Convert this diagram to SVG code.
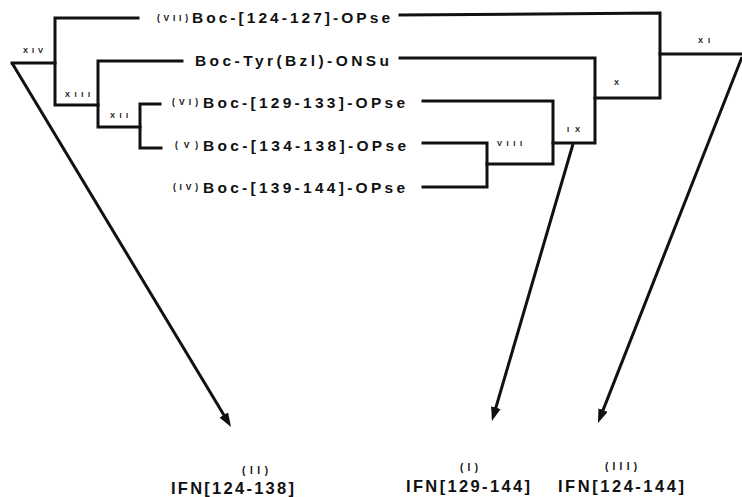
<svg xmlns="http://www.w3.org/2000/svg" width="742" height="497" viewBox="0 0 742 497">
<style>
.ln{fill:none;stroke:#111;stroke-width:3;stroke-linecap:square;stroke-linejoin:miter}
.ar{fill:none;stroke:#111;stroke-width:3;marker-end:url(#ah)}
.frag{font-family:"Liberation Sans",Arial,sans-serif;font-size:15.5px;font-weight:bold;fill:#111}
.pre{font-family:"Liberation Sans",Arial,sans-serif;font-size:8.5px;font-weight:bold;fill:#111}
.step{font-family:"Liberation Sans",Arial,sans-serif;font-size:7.5px;font-weight:bold;fill:#111}
.prod{font-family:"Liberation Sans",Arial,sans-serif;font-size:16.5px;font-weight:bold;fill:#111}
.pnum{font-family:"Liberation Sans",Arial,sans-serif;font-size:10px;font-weight:bold;fill:#111}
</style>
<defs>
<marker id="ah" markerUnits="userSpaceOnUse" markerWidth="14" markerHeight="10" refX="6" refY="5" orient="auto">
<path d="M0,0 L14,5 L0,10 Z" fill="#111"/>
</marker>
</defs>
<rect width="742" height="497" fill="#fff"/>

<g id="connectors">
<!-- left tree -->
<path class="ln" d="M138,18 H55 V105 H98"/>
<path class="ln" d="M12,63 H55"/>
<path class="ln" d="M182,61 H98 V127 H140"/>
<path class="ln" d="M160,104 H140 V148 H161"/>
<!-- right tree -->
<path class="ln" d="M400,15 L660,13 V98 H595"/>
<path class="ln" d="M660,54 H742"/>
<path class="ln" d="M400,58 H595 V143 H553"/>
<path class="ln" d="M423,101 H553 V164 H487"/>
<path class="ln" d="M423,143 H487 V187 H423"/>
<!-- arrows -->
<line class="ar" x1="12" y1="63" x2="226.9" y2="420.1"/>
<line class="ar" x1="573" y1="144" x2="494.2" y2="413.3"/>
<line class="ar" x1="742" y1="57" x2="600.9" y2="415.6"/>
<!-- step labels -->
<text class="step" x="23" y="53" textLength="20" lengthAdjust="spacing">XIV</text>
<text class="step" x="65" y="97" textLength="25" lengthAdjust="spacing">XIII</text>
<text class="step" x="110" y="118" textLength="18" lengthAdjust="spacing">XII</text>
<text class="step" x="497" y="146" textLength="25" lengthAdjust="spacing">VIII</text>
<text class="step" x="567" y="132" textLength="13" lengthAdjust="spacing">IX</text>
<text class="step" x="614" y="85">X</text>
<text class="step" x="698" y="43" textLength="12" lengthAdjust="spacing">XI</text>
</g>

<g id="vii">
<text class="pre" x="157" y="21" textLength="31" lengthAdjust="spacing">(VII)</text>
<text class="frag" x="192" y="23" textLength="198" lengthAdjust="spacing">Boc-[124-127]-OPse</text>
</g>
<g id="tyr">
<text class="frag" x="195" y="66" textLength="194" lengthAdjust="spacing">Boc-Tyr(Bzl)-ONSu</text>
</g>
<g id="vi">
<text class="pre" x="172" y="105" textLength="26" lengthAdjust="spacing">(VI)</text>
<text class="frag" x="203" y="108" textLength="202" lengthAdjust="spacing">Boc-[129-133]-OPse</text>
</g>
<g id="v">
<text class="pre" x="175" y="148" textLength="23" lengthAdjust="spacing">(V)</text>
<text class="frag" x="203" y="151" textLength="203" lengthAdjust="spacing">Boc-[134-138]-OPse</text>
</g>
<g id="iv">
<text class="pre" x="173" y="190" textLength="25" lengthAdjust="spacing">(IV)</text>
<text class="frag" x="203" y="193" textLength="202" lengthAdjust="spacing">Boc-[139-144]-OPse</text>
</g>

<g id="product-ii">
<text class="pnum" x="242" y="474" textLength="26" lengthAdjust="spacing">(II)</text>
<text class="prod" x="171" y="494" textLength="123" lengthAdjust="spacing">IFN[124-138]</text>
</g>
<g id="product-i">
<text class="pnum" x="460" y="471" textLength="18" lengthAdjust="spacing">(I)</text>
<text class="prod" x="406" y="492" textLength="124" lengthAdjust="spacing">IFN[129-144]</text>
</g>
<g id="product-iii">
<text class="pnum" x="605" y="470" textLength="32" lengthAdjust="spacing">(III)</text>
<text class="prod" x="558" y="492" textLength="126" lengthAdjust="spacing">IFN[124-144]</text>
</g>
</svg>
